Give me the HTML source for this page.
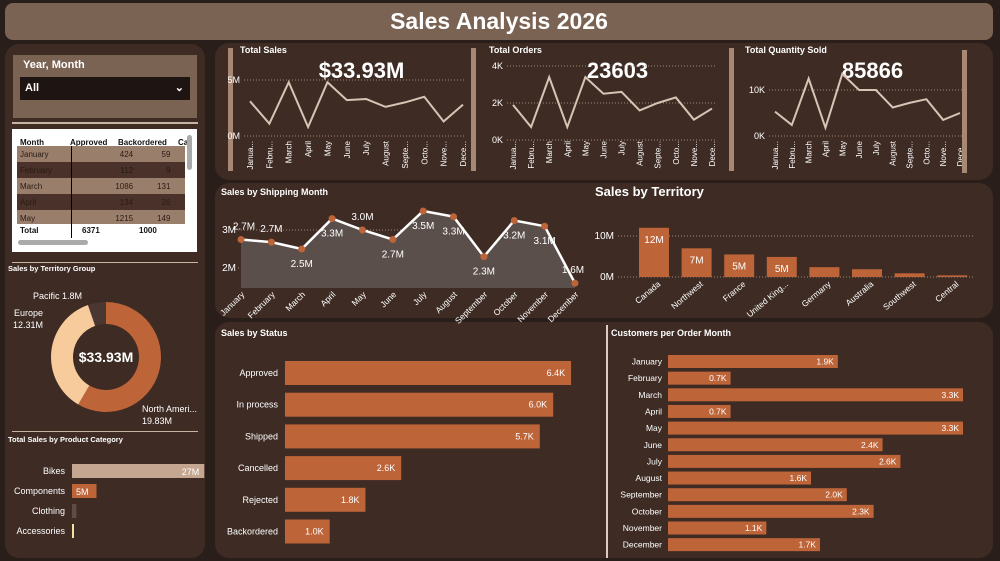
<!DOCTYPE html>
<html><head><meta charset="utf-8">
<style>
body{margin:0;width:1000px;height:561px;background:#2a1e1a;overflow:hidden;font-family:"Liberation Sans Narrow","Liberation Sans",sans-serif;color:#fff}
.abs{position:absolute}
.panel{position:absolute;background:#3e2b24;border-radius:14px}
svg text{font-family:"Liberation Sans Narrow","Liberation Sans",sans-serif;fill:#fff}
table{border-collapse:collapse;font-size:8px;width:100%}
td{padding:0 3px;height:16px;text-align:right;color:#2a1a14}
</style></head><body>
<div class="abs" style="left:5px;top:3px;width:988px;height:37px;background:#7b6354;border-radius:8px;text-align:center;font:bold 23px/37px 'Liberation Sans',sans-serif">Sales Analysis 2026</div>
<div class="panel" style="left:5px;top:44px;width:200px;height:514px"></div>
<div class="abs" style="left:13px;top:55px;width:184px;height:63px;background:#7b6354">
 <div style="position:absolute;left:10px;top:4px;font:bold 11px 'Liberation Sans',sans-serif">Year, Month</div>
 <div style="position:absolute;left:7px;top:22px;width:170px;height:23px;background:#1e1411;font:bold 11px/23px 'Liberation Sans',sans-serif;padding-left:5px;box-sizing:border-box">All<span style="position:absolute;right:6px;top:0">&#8964;</span></div>
</div>
<div class="abs" style="left:12px;top:122px;width:186px;height:2px;background:#c8b4a4"></div>
<div class="abs" style="left:12px;top:129px;width:185px;height:123px;background:#fff;overflow:hidden">
 <div style="position:absolute;left:6px;top:9px;width:168px;font:bold 8px 'Liberation Sans',sans-serif;color:#111"><span style="position:absolute;left:2px">Month</span><span style="position:absolute;left:52px">Approved</span><span style="position:absolute;left:100px">Backordered</span><span style="position:absolute;left:160px">Ca</span></div>
 <div style="position:absolute;left:5px;top:19px;width:8px;height:1px;background:#111"></div>
 <div style="position:absolute;left:5px;top:17px;width:168px;height:78px;overflow:hidden">
 <table>
 <tr style="background:#9a7e6c"><td style="text-align:left">January</td><td>424</td><td>59</td><td></td></tr>
 <tr style="background:#4a322a"><td style="text-align:left">February</td><td>112</td><td>9</td><td></td></tr>
 <tr style="background:#9a7e6c"><td style="text-align:left">March</td><td>1086</td><td>131</td><td></td></tr>
 <tr style="background:#4a322a"><td style="text-align:left">April</td><td>134</td><td>26</td><td></td></tr>
 <tr style="background:#9a7e6c"><td style="text-align:left">May</td><td>1215</td><td>149</td><td></td></tr>
 </table></div>
 <div style="position:absolute;left:6px;top:95px;width:168px;height:14px;background:#fff;font:bold 8px/14px 'Liberation Sans',sans-serif;color:#111"><span style="position:absolute;left:2px">Total</span><span style="position:absolute;left:64px">6371</span><span style="position:absolute;left:121px">1000</span></div>
 <div style="position:absolute;left:59px;top:17px;width:1px;height:92px;background:#000"></div>
 <div style="position:absolute;left:6px;top:111px;width:70px;height:5px;border-radius:3px;background:#aaa"></div>
 <div style="position:absolute;left:175px;top:6px;width:5px;height:35px;border-radius:3px;background:#aaa"></div>
</div>
<div class="abs" style="left:12px;top:262px;width:186px;height:1px;background:#c8b4a4"></div>
<div class="abs" style="left:12px;top:431px;width:186px;height:1px;background:#c8b4a4"></div>
<div class="panel" style="left:215px;top:43px;width:778px;height:137px"></div>
<div class="panel" style="left:215px;top:183px;width:778px;height:135px"></div>
<div class="panel" style="left:215px;top:322px;width:778px;height:236px"></div>
<div class="abs" style="left:606px;top:325px;width:2px;height:233px;background:#d8ccc4"></div>
<svg id="s" class="abs" style="left:0;top:0" width="1000" height="561"></svg>
<script>
const months=["January","February","March","April","May","June","July","August","September","October","November","December"];
const shortM=["Janua...","Febru...","March","April","May","June","July","August","Septe...","Octo...","Nove...","Dece..."];
const salesM=[3.1,1.1,4.8,0.8,4.8,3.2,3.3,2.6,3.0,3.5,1.3,2.8];
const ordersK=[1.9,0.7,3.4,0.7,3.4,2.5,2.6,1.6,2.0,2.3,1.1,1.7];
const qtyK=[5.3,2.4,12.5,1.8,13.5,10,10,6.2,7.2,8,3.5,5];
const shipM=[2.75,2.68,2.5,3.3,3.0,2.75,3.5,3.35,2.3,3.25,3.1,1.6];
const shipLbl=["2.7M","2.7M","2.5M","3.3M","3.0M","2.7M","3.5M","3.3M","2.3M","3.2M","3.1M","1.6M"];
const terrNames=["Canada","Northwest","France","United King...","Germany","Australia","Southwest","Central"];
const terrM=[12,7,5.5,4.9,2.4,1.9,0.9,0.4];
const terrLbl=["12M","7M","5M","5M","","","",""];
const statusNames=["Approved","In process","Shipped","Cancelled","Rejected","Backordered"];
const statusK=[6.4,6.0,5.7,2.6,1.8,1.0];
const custK=[1.9,0.7,3.3,0.7,3.3,2.4,2.6,1.6,2.0,2.3,1.1,1.7];
const groupNames=["North America","Europe","Pacific"];
const groupM=[19.83,12.31,1.8];
const catNames=["Bikes","Components","Clothing","Accessories"];
const catM=[27,5,0.9,0.3];
const catLbl=["27M","5M","",""];

const S=document.getElementById('s');const NS="http://www.w3.org/2000/svg";
function el(t,a,txt){const e=document.createElementNS(NS,t);for(const k in a)e.setAttribute(k,a[k]);if(txt!==undefined)e.textContent=txt;S.appendChild(e);return e;}
const OR="#bd6439";
function txt(x,y,s,o){o=o||{};const e=el('text',{x:x,y:y,'font-size':o.fs||9,'text-anchor':o.a||'start','font-weight':o.w||'normal',transform:o.r?`rotate(${o.r} ${x} ${y})`:''},s);return e;}

function spark(name,title,big,vals,x0,x1,yTop,yBot,vmax,ticks,tickLbl,barX,titleX){
  const fx=i=>x0+i*(x1-x0)/11, fy=v=>yBot-(v/vmax)*(yBot-yTop);
  let e=el('rect',{x:barX,y:48,width:5,height:123,fill:'#a78874'});
  
  e=txt(titleX,53,title,{fs:9,w:'bold'});
  e=txt((x0+x1)/2+5,78,big,{fs:22,a:'middle',w:'bold'});
  ticks.forEach((t,j)=>{el('line',{x1:x0-6,x2:x1+3,y1:fy(t),y2:fy(t),stroke:'#a08878','stroke-dasharray':'1 2'});
    e=txt(x0-10,fy(t)+3,tickLbl[j],{fs:9,a:'end'});});
  e=el('polyline',{points:vals.map((v,i)=>fx(i)+','+fy(v)).join(' '),fill:'none',stroke:'#d8c4b4','stroke-width':2});
  
  shortM.forEach((m,i)=>{e=txt(fx(i)+3,141,m,{fs:8,a:'end',r:-90});});
}
spark('total-sales','Total Sales','$33.93M',salesM,250,463,80,136,5,[0,5],["0M","5M"],228,240);
spark('total-orders','Total Orders','23603',ordersK,513,712,66,140,4,[0,2,4],["0K","2K","4K"],471,489);
spark('total-qty','Total Quantity Sold','85866',qtyK,775,960,90,136,10,[0,10],["0K","10K"],729,745);
let e=el('rect',{x:962,y:50,width:5,height:123,fill:'#a78874'});

(function(){const x0=241,x1=575,fy=v=>230-(v-3)*38,fx=i=>x0+i*(x1-x0)/11;
 e=txt(221,195,'Sales by Shipping Month',{fs:9,w:'bold'});
 [[3,'3M'],[2,'2M']].forEach(t=>{el('line',{x1:238,x2:462,y1:fy(t[0]),y2:fy(t[0]),stroke:'#a08878','stroke-dasharray':'1 2'});
  e=txt(236,fy(t[0])+3,t[1],{fs:10,a:'end'});});
 const pts=shipM.map((v,i)=>fx(i)+','+fy(v));
 e=el('polygon',{points:x0+',288 '+pts.join(' ')+' '+x1+',288',fill:'#5b4f4b'});
 e=el('polyline',{points:pts.join(' '),fill:'none',stroke:'#fff','stroke-width':2.5});
 shipM.forEach((v,i)=>{e=el('circle',{cx:fx(i),cy:fy(v),r:3.5,fill:OR});
  const above=[0,1,4].includes(i)||i==11;const dy=above?-10:18;
  e=txt(fx(i)+(i==0?3:i==11?-2:0),fy(v)+dy,shipLbl[i],{fs:10,a:'middle'});
  e=txt(fx(i)+4,295,months[i],{fs:8.5,a:'end',r:-45});});
})();

(function(){const fy=v=>277-v*4.1,fx=i=>639+i*42.6;
 e=txt(595,196,'Sales by Territory',{fs:13,w:'bold'});
 [[0,'0M'],[10,'10M']].forEach(t=>{el('line',{x1:618,x2:975,y1:fy(t[0]),y2:fy(t[0]),stroke:'#a08878','stroke-dasharray':'1 2'});
  e=txt(614,fy(t[0])+3,t[1],{fs:10,a:'end'});});
 terrM.forEach((v,i)=>{e=el('rect',{x:fx(i),y:fy(v),width:30,height:277-fy(v),fill:OR});
  if(terrLbl[i]){e=txt(fx(i)+15,fy(v)+15,terrLbl[i],{fs:10,a:'middle'});}
  e=txt(fx(i)+22,285,terrNames[i],{fs:8.5,a:'end',r:-40});});
})();

(function(){const sc=44.7;
 e=txt(221,336,'Sales by Status',{fs:9,w:'bold'});
 statusK.forEach((v,i)=>{const yc=373+i*31.7;
  e=el('rect',{x:285,y:yc-12,width:v*sc,height:24,fill:OR});
  e=txt(285+v*sc-6,yc+3,v.toFixed(1)+'K',{fs:9,a:'end'});
  e=txt(278,yc+3,statusNames[i],{fs:9,a:'end'});});
})();

(function(){const sc=89.4;
 e=txt(611,336,'Customers per Order Month',{fs:9,w:'bold'});
 custK.forEach((v,i)=>{const yc=361.5+i*16.65;
  e=el('rect',{x:668,y:yc-6.5,width:v*sc,height:13,fill:OR});
  e=txt(668+v*sc-4,yc+3,v.toFixed(1)+'K',{fs:8.5,a:'end'});
  e=txt(662,yc+3,months[i],{fs:8.5,a:'end'});});
})();

(function(){const cx=106,cy=357,R=55,r=33,tot=groupM.reduce((a,b)=>a+b,0),cols=[OR,'#f7cb9c','#4b3731'];
 e=txt(8,271,'Sales by Territory Group',{fs:7.5,w:'bold'});
 let a0=-Math.PI/2;
 groupM.forEach((v,i)=>{const a1=a0+v/tot*2*Math.PI,lg=(a1-a0)>Math.PI?1:0;
  const p=(rr,a)=>(cx+rr*Math.cos(a))+','+(cy+rr*Math.sin(a));
  e=el('path',{d:`M${p(R,a0)} A${R},${R} 0 ${lg} 1 ${p(R,a1)} L${p(r,a1)} A${r},${r} 0 ${lg} 0 ${p(r,a0)} Z`,fill:cols[i]});
  a0=a1;});
 e=txt(cx,cy+5,'$33.93M',{fs:14,a:'middle',w:'bold'});
 e=txt(142,412,'North Ameri...',{fs:9});
 e=txt(142,424,groupM[0].toFixed(2)+'M',{fs:9});
 e=txt(14,316,'Europe',{fs:9});
 e=txt(13,328,groupM[1].toFixed(2)+'M',{fs:9});
 e=txt(33,299,'Pacific '+groupM[2].toFixed(1)+'M',{fs:9});
})();

(function(){const sc=4.9,cols=['#c5a690',OR,'#5e4c45','#f2e2a2'];
 e=txt(8,442,'Total Sales by Product Category',{fs:7.5,w:'bold'});
 catM.forEach((v,i)=>{const yc=471+i*20;
  e=el('rect',{x:72,y:yc-7,width:Math.max(v*sc,2),height:14,fill:cols[i]});
  if(catLbl[i]){e=txt(i==0?72+v*sc-5:76,yc+4,catLbl[i],{fs:9,a:i==0?'end':'start'});}
  e=txt(65,yc+3,catNames[i],{fs:9,a:'end'});});
})();
</script>
</body></html>
